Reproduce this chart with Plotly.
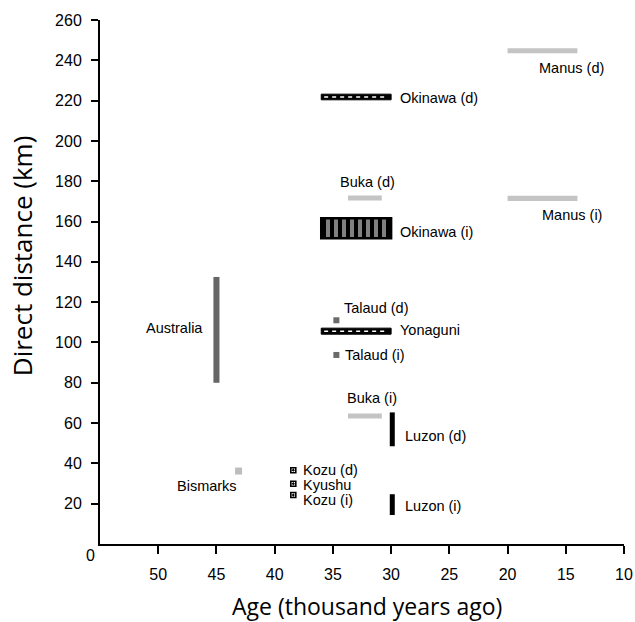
import plotly.graph_objects as go

# ---- data ----
# horizontal ranges (age span at a given distance)
h_names = ["Manus (d)", "Manus (i)", "Buka (d)", "Buka (i)", "Okinawa (d)", "Okinawa (i)", "Yonaguni"]
h_dist = [244.7, 171.5, 171.7, 63.5, 221.8, 156.7, 105.6]
h_age_old = [20.0, 20.0, 33.7, 33.7, 36.0, 36.0, 36.0]
h_age_young = [14.0, 14.0, 30.8, 30.8, 30.0, 30.0, 30.0]
h_thick = [2.5, 2.5, 2.5, 2.5, 2.8, 9.9, 3.0]
h_kind = ["gray", "gray", "gray", "gray", "dash", "zig", "dash"]

# vertical ranges (distance span at a given age)
v_names = ["Australia", "Luzon (d)", "Luzon (i)"]
v_age = [45.0, 29.9, 29.9]
v_dist_low = [80.0, 48.5, 14.4]
v_dist_high = [132.5, 65.3, 24.7]
v_width = [0.52, 0.43, 0.43]
v_color = ["#666666", "#000000", "#000000"]

# single points
p_names = ["Talaud (d)", "Talaud (i)", "Bismarks", "Kozu (d)", "Kyushu", "Kozu (i)"]
p_age = [34.7, 34.7, 43.1, 38.4, 38.4, 38.4]
p_dist = [111.0, 93.8, 36.2, 36.6, 29.9, 24.3]
p_kind = ["dark", "dark", "light", "box", "box", "box"]

# labels
lab_text = ["Manus (d)", "Manus (i)", "Buka (d)", "Buka (i)", "Okinawa (d)", "Okinawa (i)",
            "Yonaguni", "Australia", "Luzon (d)", "Luzon (i)", "Talaud (d)", "Talaud (i)",
            "Bismarks", "Kozu (d)", "Kyushu", "Kozu (i)"]
lab_x = [14.5, 14.5, 32.0, 31.6, 29.4, 29.4, 29.4, 46.0, 29.0, 29.0, 34.2, 34.1, 45.8, 37.7, 37.7, 37.7]
lab_y = [236.2, 163.3, 179.7, 72.5, 221.3, 154.8, 106.2, 107.2, 53.6, 18.9, 117.1, 93.8, 28.8, 36.7, 29.3, 21.8]
lab_anchor = ["center", "center", "center", "center", "left", "left", "left", "right", "left", "left",
              "left", "left", "center", "left", "left", "left"]

x_ticks = [50, 45, 40, 35, 30, 25, 20, 15, 10]
y_ticks = [20, 40, 60, 80, 100, 120, 140, 160, 180, 200, 220, 240, 260]

fig = go.Figure()

for n, d, a0, a1, t, k in zip(h_names, h_dist, h_age_old, h_age_young, h_thick, h_kind):
    if k == "gray":
        marker = dict(color="#c4c4c4", line=dict(width=0))
    elif k == "dash":
        marker = dict(color="#000000", line=dict(color="#000000", width=1))
    else:
        marker = dict(color="#000000", line=dict(color="#000000", width=2.5),
                      pattern=dict(shape="|", fgcolor="#ffffff", bgcolor="#000000", size=8, solidity=0.5))
    fig.add_trace(go.Bar(orientation="h", y=[d], x=[a1 - a0], base=[a0], width=[t],
                         marker=marker, name=n, showlegend=False, hoverinfo="skip"))
    if k == "dash":
        fig.add_trace(go.Scatter(x=[a0 - 0.25, a1 + 0.25], y=[d, d], mode="lines",
                                 line=dict(color="#ffffff", width=1.6, dash="4px,4px"),
                                 showlegend=False, hoverinfo="skip"))

for n, a, lo, hi, w, c in zip(v_names, v_age, v_dist_low, v_dist_high, v_width, v_color):
    fig.add_trace(go.Bar(orientation="v", x=[a], y=[hi - lo], base=[lo], width=[w],
                         marker=dict(color=c, line=dict(width=0)), name=n,
                         showlegend=False, hoverinfo="skip"))

for n, a, d, k in zip(p_names, p_age, p_dist, p_kind):
    if k == "dark":
        m = dict(symbol="square", size=6, color="#6a6a6a")
    elif k == "light":
        m = dict(symbol="square", size=7, color="#bdbdbd")
    else:
        m = dict(symbol="square-dot", size=5, color="#ffffff", line=dict(color="#000000", width=1.6))
    fig.add_trace(go.Scatter(x=[a], y=[d], mode="markers", marker=m, name=n,
                             showlegend=False, hoverinfo="skip"))

for t, x, y, anc in zip(lab_text, lab_x, lab_y, lab_anchor):
    fig.add_annotation(x=x, y=y, text=t, showarrow=False, xanchor=anc, yanchor="middle",
                       font=dict(family="Liberation Sans, Arial", size=14.5, color="#000000"))

fig.add_annotation(x=-0.019, y=-0.021, xref="paper", yref="paper", text="0", showarrow=False,
                   xanchor="center", yanchor="middle",
                   font=dict(family="Liberation Sans, Arial", size=16, color="#000000"))

fig.add_annotation(x=0.5095, y=-0.118, xref="paper", yref="paper", text="Age (thousand years ago)",
                   showarrow=False, xanchor="center", yanchor="middle",
                   font=dict(family="Open Sans", size=23, color="#000000"))
fig.add_annotation(x=-0.149, y=0.551, xref="paper", yref="paper", text="Direct distance (km)",
                   showarrow=False, xanchor="center", yanchor="middle", textangle=-90,
                   font=dict(family="Open Sans", size=26, color="#000000"))

fig.update_layout(
    width=635, height=622,
    margin=dict(l=100, r=11, t=20, b=78, autoexpand=False),
    plot_bgcolor="#ffffff", paper_bgcolor="#ffffff",
    barmode="overlay",
    xaxis=dict(range=[55, 10], tickvals=x_ticks, ticktext=[str(v) for v in x_ticks],
               automargin=False,
               showline=True, linecolor="#000000", linewidth=2, ticks="outside",
               ticklen=8, tickwidth=2, tickcolor="#000000", showgrid=False, zeroline=False,
               ticklabelstandoff=7,
               tickfont=dict(family="Liberation Sans, Arial", size=16, color="#000000")),
    yaxis=dict(range=[0, 260], tickvals=y_ticks, ticktext=[str(v) for v in y_ticks],
               automargin=False,
               showline=True, linecolor="#000000", linewidth=2, ticks="outside",
               ticklen=7, tickwidth=2, tickcolor="#000000", showgrid=False, zeroline=False,
               ticklabelstandoff=6,
               tickfont=dict(family="Liberation Sans, Arial", size=16, color="#000000")),
)

fig.write_html("out.html", config={"displayModeBar": False},
               post_script="document.body.style.margin='0';document.body.style.overflow='hidden';")
